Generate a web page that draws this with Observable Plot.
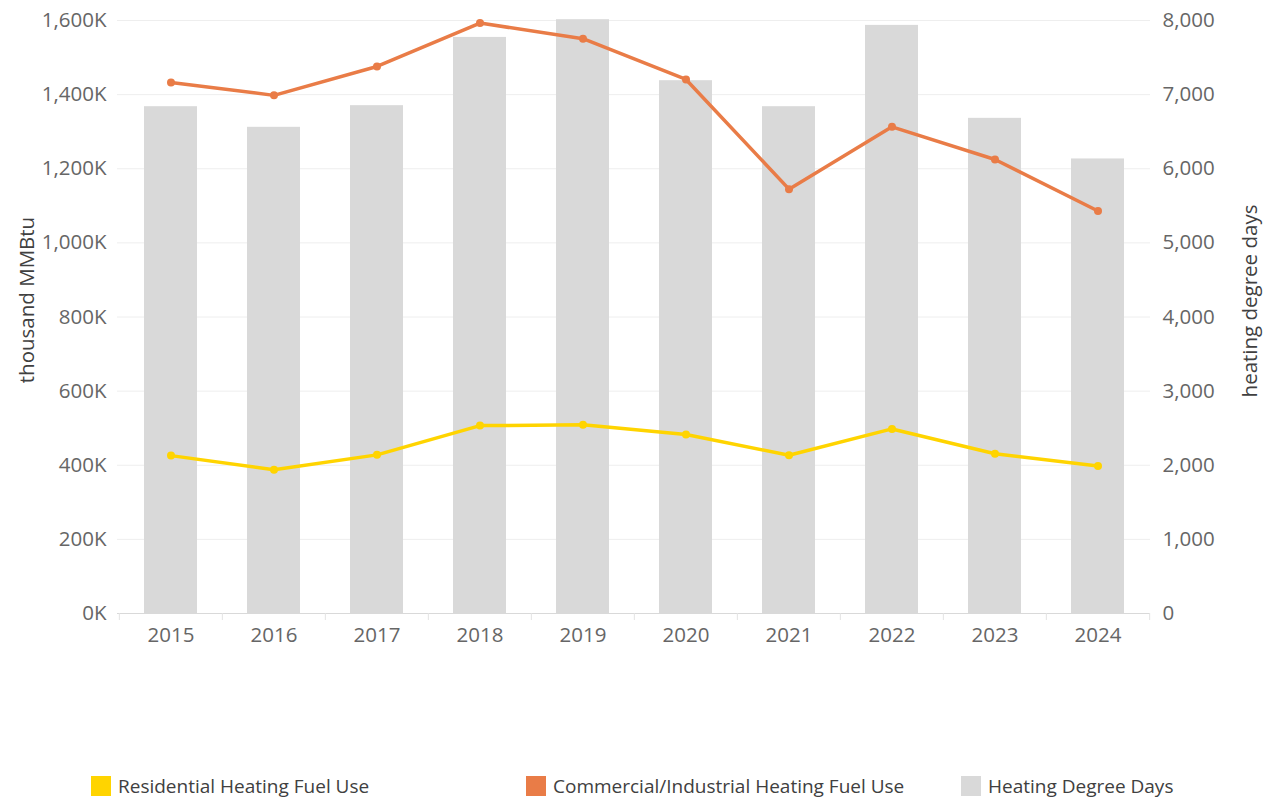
<!DOCTYPE html>
<html><head><meta charset="utf-8">
<script src="https://cdn.jsdelivr.net/npm/d3@7"></script>
<script src="https://cdn.jsdelivr.net/npm/@observablehq/plot@0.6"></script>
<style>
body{margin:0;background:#fff;font-family:"Open Sans",sans-serif;overflow:hidden;}
#legend{display:flex;padding-left:91px;margin-top:13px;height:26px;align-items:center;}
.item{width:435px;flex:none;display:flex;align-items:center;font-size:19px;color:#404040;white-space:nowrap;}
.sw{width:20px;height:20px;margin-right:7px;flex:none;}
</style></head><body>
<div id="chart"></div>
<div id="legend"></div>
<script>
const years = ["2015","2016","2017","2018","2019","2020","2021","2022","2023","2024"];
const residential = [426000, 388000, 428000, 507000, 509000, 483000, 427000, 498000, 431000, 398000];
const commercial = [1433000, 1398000, 1476000, 1593000, 1551000, 1441000, 1145000, 1313000, 1225000, 1086000];
const hdd = [6837, 6559, 6851, 7772, 8011, 7188, 6837, 7934, 6680, 6132];
const leftTicks = [0, 200000, 400000, 600000, 800000, 1000000, 1200000, 1400000, 1600000];
const rightTicks = [0, 1000, 2000, 3000, 4000, 5000, 6000, 7000, 8000];
const seriesNames = ["Residential Heating Fuel Use", "Commercial/Industrial Heating Fuel Use", "Heating Degree Days"];
const seriesColors = ["#FFD400", "#E97C47", "#D9D9D9"];
const axisTitles = ["thousand MMBtu", "heating degree days"];

const data = years.map((y, i) => ({year: y, res: residential[i], com: commercial[i], hdd: hdd[i]}));
const K = 1600000 / 8000; // left-axis units per heating degree day

const W = 1268, H = 760, mL = 117, mR = 118, mT = 20, mB = 147;
const step = (W - mL - mR) / years.length;

const chart = Plot.plot({
  width: W, height: H,
  marginLeft: mL, marginRight: mR, marginTop: mT, marginBottom: mB,
  style: {fontFamily: "'Open Sans', sans-serif", fontSize: "20.5px", color: "#666", background: "#fff"},
  x: {type: "band", domain: years, paddingInner: 0.49, paddingOuter: 0.245},
  y: {domain: [0, 1600000]},
  marks: [
    Plot.gridY(leftTicks, {stroke: "#eeeeee", strokeOpacity: 1}),
    Plot.barY(data, {x: "year", y: d => d.hdd * K, fill: seriesColors[2]}),
    Plot.ruleY([0], {stroke: "#d9d9d9"}),
    Plot.axisY(leftTicks, {anchor: "left", tickSize: 0, tickPadding: 11, label: null,
      tickFormat: d => d3.format(",")(d / 1000) + "K"}),
    Plot.axisY(rightTicks.map(v => v * K), {anchor: "right", tickSize: 0, tickPadding: 12, label: null,
      tickFormat: d => d3.format(",")(Math.round(d / K))}),
    Plot.axisX({tickSize: 0, tickPadding: 14, label: null}),
    Plot.axisX(years, {tickSize: 7, text: null, label: null, dx: -step / 2, stroke: "#e3e3e3"}),
    Plot.axisX([years[years.length - 1]], {tickSize: 7, text: null, label: null, dx: step / 2, stroke: "#e3e3e3"}),
    Plot.line(data, {x: "year", y: "res", stroke: seriesColors[0], strokeWidth: 3.5}),
    Plot.dot(data, {x: "year", y: "res", fill: seriesColors[0], r: 4}),
    Plot.line(data, {x: "year", y: "com", stroke: seriesColors[1], strokeWidth: 3.5}),
    Plot.dot(data, {x: "year", y: "com", fill: seriesColors[1], r: 4}),
    Plot.text([axisTitles[0]], {frameAnchor: "left", textAnchor: "middle", rotate: -90, dx: -90, dy: -17, fill: "#404040", fontSize: 20.5}),
    Plot.text([axisTitles[1]], {frameAnchor: "right", textAnchor: "middle", rotate: -90, dx: 100, dy: -16, fill: "#404040", fontSize: 20.5})
  ]
});
document.getElementById("chart").appendChild(chart);

const legend = document.getElementById("legend");
seriesNames.forEach((name, i) => {
  const item = document.createElement("div");
  item.className = "item";
  item.innerHTML = `<span class="sw" style="background:${seriesColors[i]}"></span><span>${name}</span>`;
  legend.appendChild(item);
});
</script>
</body></html>
